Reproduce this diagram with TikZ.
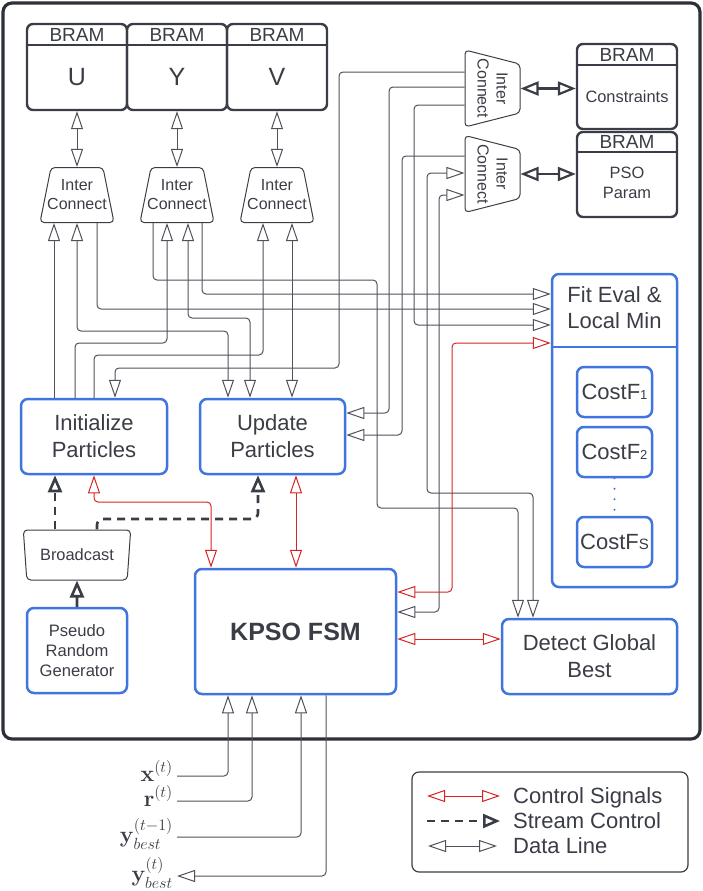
\RequirePackage{fix-cm}
\documentclass[tikz,border=0pt]{standalone}
\usepackage{amsmath}
\usepackage[no-math]{fontspec}
\setmainfont{Liberation Sans}
\usetikzlibrary{arrows.meta,shapes.geometric}
\definecolor{ink}{RGB}{58,61,69}
\definecolor{framec}{RGB}{45,48,55}
\definecolor{wire}{RGB}{78,82,90}
\definecolor{boxblue}{RGB}{64,116,222}
\definecolor{ctrlred}{RGB}{214,36,36}
\newcommand{\setfs}[2]{\fontsize{#1}{#2}\selectfont}

\begin{document}
\begin{tikzpicture}[x=1pt,y=-1pt]
        \tikzstyle{every node} = [inner sep=0pt, text=ink]
        \tikzstyle{bram} = [draw=ink, line width=2.4pt, rounded corners=6pt, minimum width=100pt, minimum height=86pt]
        \tikzstyle{bramrule} = [draw=ink, line width=2.4pt]
        \tikzstyle{bramhead} = [font=\setfs{19}{22}]
        \tikzstyle{bramtext} = [font=\setfs{25}{28}]
        \tikzstyle{ic} = [trapezium, draw=ink, line width=1pt, inner sep=2pt, rounded corners=4pt, trapezium left angle=78, trapezium right angle=78, trapezium stretches=true, minimum width=74pt, minimum height=55pt]
        \tikzstyle{ictext} = [font=\setfs{16}{19}, align=center]
        \tikzstyle{midtext} = [font=\setfs{16.4}{20}, align=center]
        \tikzstyle{blk} = [draw=boxblue, line width=2.5pt, rounded corners=7pt, align=center, font=\setfs{22}{27}]
        \tikzstyle{cost} = [minimum width=75pt, minimum height=50pt]
        \tikzstyle{data} = [draw=wire, line width=1pt, rounded corners=4pt, >={Triangle[open,length=18pt,width=12pt]}]
        \tikzstyle{ctrl} = [draw=ctrlred, line width=1pt, rounded corners=4pt, >={Triangle[open,length=18pt,width=12pt]}]
        \tikzstyle{stream} = [draw=ink, line width=2.6pt, rounded corners=6pt, dash pattern=on 8pt off 6pt, >={Triangle[open,length=17pt,width=14pt]}]
        \tikzstyle{bus} = [draw=ink, line width=2.2pt, >={Triangle[open,length=18pt,width=14pt]}]
        \tikzstyle{mathlbl} = [anchor=base east, font=\setfs{23}{26}]
        \tikzstyle{legtext} = [anchor=base west, font=\setfs{22}{25}]

        \useasboundingbox (0,0) rectangle (703,891);
        \draw[draw=framec, line width=3.2pt, rounded corners=9pt] (3,3) rectangle (700,739);

        % memories U, Y, V and their interconnects
        \foreach \name/\x in {U/77, Y/177, V/277} {
            \node[bram] (bram\name) at (\x,67) {};
            \node[bramhead] (head\name) at (\x,34.5) {BRAM};
            \node[bramtext] (lbl\name) at (\x,77) {\name};
            \draw[bramrule] (bram\name.west |- 0,45) -- (bram\name.east |- 0,45);
            \node[ic] (ic\name) at (\x,195) {};
            \node[ictext] (ict\name) at (ic\name.center) {Inter\\Connect};
            \draw[data,<->] (bram\name.south) -- (ic\name.north);
        }

        % constraint and parameter memories
        \node[bram, minimum height=85pt] (bramC) at (627,86.5) {};
        \node[bramhead] (headC) at (627,54.5) {BRAM};
        \draw[bramrule] (bramC.west |- 0,65) -- (bramC.east |- 0,65);
        \node[midtext] (lblC) at (627,97) {Constraints};
        \node[bram, minimum height=85pt] (bramP) at (627,174.5) {};
        \node[bramhead] (headP) at (627,142) {BRAM};
        \draw[bramrule] (bramP.west |- 0,152) -- (bramP.east |- 0,152);
        \node[midtext] (lblP) at (627,183) {PSO\\Param};

        \node[ic, rotate=-90, trapezium left angle=74, trapezium right angle=74, minimum width=77pt] (icC) at (492.5,88.5) {};
        \node[ictext, rotate=-90] (ictC) at (icC.center) {Inter\\Connect};
        \node[ic, rotate=-90, trapezium left angle=74, trapezium right angle=74, minimum width=77pt] (icP) at (492.5,174) {};
        \node[ictext, rotate=-90] (ictP) at (icP.center) {Inter\\Connect};
        \draw[bus,<->] (icC.north) -- (icC.north -| bramC.west);
        \draw[bus,<->] (icP.north) -- (icP.north -| bramP.west);

        % processing blocks
        \node[blk, minimum width=125pt, minimum height=313pt] (fit) at (614.5,430.5) {};
        \draw[draw=boxblue, line width=2.5pt] (fit.west |- 0,347) -- (fit.east |- 0,347);
        \node[font=\setfs{22}{26}, align=center] (fitt) at (614.5,308) {Fit Eval \&\\Local Min};
        \node[blk, cost] (cost1) at (614.5,392) {CostF{\setfs{13}{13}1}};
        \node[blk, cost] (cost2) at (614.5,452) {CostF{\setfs{13}{13}2}};
        \node[blk, cost] (costS) at (614.5,542) {CostF{\setfs{15}{15}S}};
        \draw[draw=boxblue, line width=2.4pt, line cap=round, dash pattern=on 0pt off 10.5pt] (cost2.south) -- (costS.north);

        \node[blk, minimum width=146pt, minimum height=75pt] (init) at (94,436.5) {Initialize\\Particles};
        \node[blk, minimum width=145pt, minimum height=75pt] (upd) at (272.5,436.5) {Update\\Particles};
        \node[trapezium, draw=ink, line width=1pt, rounded corners=4pt, shape border rotate=180, trapezium left angle=78, trapezium right angle=78, trapezium stretches=true, minimum width=108pt, minimum height=50pt, font=\setfs{16.4}{20}] (bcast) at (77,555) {Broadcast};
        \node[blk, minimum width=100pt, minimum height=85pt, font=\setfs{16.6}{20}] (prg) at (77,650.5) {Pseudo\\Random\\Generator};
        \node[blk, minimum width=201pt, minimum height=125pt, font=\setfs{25}{28}\bfseries] (kpso) at (295.5,631.5) {KPSO FSM};
        \node[blk, minimum width=175pt, minimum height=75pt] (dgb) at (589.5,656.5) {Detect Global\\Best};

        % data lines
        \draw[data,->] (init.north -| 54,0) -- (icU.south -| 54,0);
        \draw[data,<->] (icU.south) |- (228,331) -- (upd.north -| 228,0);
        \draw[data,->] (icU.south -| 97,0) |- (fit.west |- 0,309);
        \draw[data,->] (icY.south -| 153,0) |- (377,280) |- (518,508) -- (dgb.north -| 518,0);
        \draw[data,->] (init.north -| 75,0) |- (167,343) -- (icY.south -| 167,0);
        \draw[data,<->] (icY.south -| 188,0) |- (250,318) -- (upd.north -| 250,0);
        \draw[data,->] (icY.south -| 202,0) |- (fit.west |- 0,294);
        \draw[data,->] (init.north -| 94,0) |- (263,355) -- (icV.south -| 263,0);
        \draw[data,<->] (icV.south -| 292,0) -- (upd.north -| 292,0);
        \draw[data,->] (icC.south |- 0,72) -| (339,368) -| (init.north -| 115,0);
        \draw[data,->] (icC.south |- 0,87) -| (389,413) -- (upd.east |- 0,413);
        \draw[data,->] (icC.south |- 0,105) -| (414,325) -- (fit.west |- 0,325);
        \draw[data,->] (icP.south |- 0,156) -| (402,435) -- (upd.east |- 0,435);
        \draw[data,<->] (icP.south |- 0,173) -| (427,493) -| (dgb.north -| 533,0);
        \draw[data,<->] (icP.south |- 0,195) -| (439,612) -- (kpso.east |- 0,612);

        % control signals
        \draw[ctrl,<->] (init.south -| 94,0) |- (211,502) -- (kpso.north -| 211,0);
        \draw[ctrl,<->] (upd.south -| 296,0) -- (kpso.north -| 296,0);
        \draw[ctrl,<->] (kpso.east |- 0,592) -| (452,343) -- (fit.west |- 0,343);
        \draw[ctrl,<->] (kpso.east |- 0,639) -- (dgb.west |- 0,639);

        % stream control
        \draw[stream,solid,->] (prg.north) -- (bcast.south);
        \draw[stream,->] (bcast.north -| 55,0) -- (init.south -| 55,0);
        \draw[stream,->] (bcast.north -| 97,0) |- (258,519) -- (upd.south -| 258,0);

        % external ports
        \node[mathlbl] (xin) at (173,781) {$\mathbf{x}^{(t)}$};
        \node[mathlbl] (rin) at (173,806) {$\mathbf{r}^{(t)}$};
        \node[mathlbl] (yprev) at (173,842) {$\mathbf{y}_{best}^{(t-1)}$};
        \node[mathlbl] (ybest) at (173,881) {$\mathbf{y}_{best}^{(t)}$};
        \draw[data,->] ([xshift=4pt,yshift=5pt]xin.base east) -| (kpso.south -| 228,0);
        \draw[data,->] ([xshift=4pt,yshift=5pt]rin.base east) -| (kpso.south -| 252,0);
        \draw[data,->] ([xshift=4pt,yshift=5pt]yprev.base east) -| (kpso.south -| 301,0);
        \draw[data,->] (kpso.south -| 326,0) |- ([xshift=4pt,yshift=5pt]ybest.base east);

        % legend
        \node[draw=ink, line width=1.2pt, rounded corners=7pt, minimum width=276pt, minimum height=100pt] (legend) at (550,822) {};
        \node[legtext] (lgc) at (513,803) {Control Signals};
        \node[legtext] (lgs) at (513,828) {Stream Control};
        \node[legtext] (lgd) at (513,853) {Data Line};
        \draw[ctrl,<->] ([xshift=-86pt,yshift=7pt]lgc.base west) -- ([xshift=-13pt,yshift=7pt]lgc.base west);
        \draw[stream,->] ([xshift=-86pt,yshift=7pt]lgs.base west) -- ([xshift=-13pt,yshift=7pt]lgs.base west);
        \draw[data,<->] ([xshift=-85pt,yshift=7pt]lgd.base west) -- ([xshift=-16pt,yshift=7pt]lgd.base west);
\end{tikzpicture}
\end{document}
